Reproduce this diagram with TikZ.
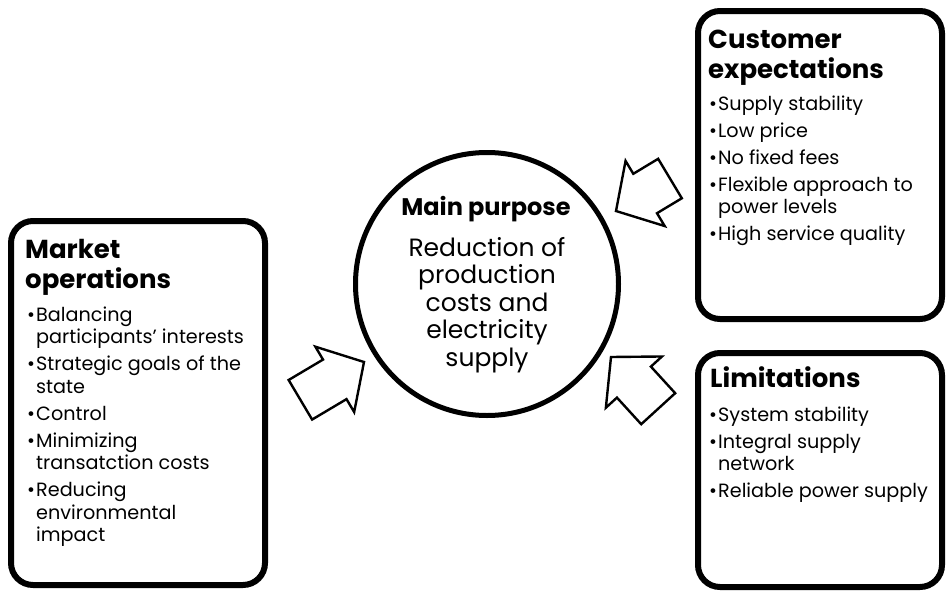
\documentclass[tikz,border=0pt]{standalone}
\usepackage{fontspec}
\setmainfont{Poppins}
% bullet with a fixed-width slot, and the matching indent for wrapped lines
\newcommand\bitem{\makebox[9pt][l]{\textbullet}}
\newcommand\bcont{\hspace*{9pt}}
\newcommand\firstline[1]{\rule{0pt}{#1}}
\begin{document}
\begin{tikzpicture}[x=1pt,y=-1pt,
  panel/.style={draw=black, line width=6pt, rounded corners=22pt, inner sep=0pt, fill=white},
  hub/.style={draw=black, line width=5pt, circle, inner sep=0pt, minimum size=263pt, fill=white},
  heading/.style={inner sep=0pt, align=left, font=\fontsize{26}{30}\selectfont\bfseries},
  items/.style={anchor=north west, inner sep=0pt, align=left, font=\fontsize{19.2}{22.5}\selectfont},
  arrowline/.style={draw=black, line width=2.4pt, line join=miter, fill=white},
  pics/blockarrow/.style={code={%
    \path[arrowline] (0,0) -- (-34,38) -- (-34,23) -- (-#1,23) -- (-#1,-23)
      -- (-34,-23) -- (-34,-38) -- cycle;}}
]
\useasboundingbox (0,0) rectangle (946,592);

% panels and central circle
\node[panel, minimum width=254pt, minimum height=364pt] (market) at (138,403) {};
\node[panel, minimum width=244pt, minimum height=308pt] (customer) at (820,165) {};
\node[panel, minimum width=244pt, minimum height=234pt] (limits) at (820,470) {};
\node[hub] (purpose) at (487,284) {};

% centre text
\node[anchor=base, inner sep=0pt, font=\fontsize{24}{27}\selectfont\bfseries] (purposetitle) at (486,215) {Main purpose};
\node[anchor=north, inner sep=0pt, align=center, font=\fontsize{25}{27.5}\selectfont] (purposetext) at (487,234)
  {\firstline{22pt}Reduction of\\production\\costs and\\electricity\\supply};

% market operations
\node[heading, anchor=north west] (markettitle) at (25,233) {\firstline{25pt}Market\\operations};
\node[items] (marketitems) at (27,303) {\firstline{18pt}\bitem Balancing\\
  \bcont participants' interests\\[4.5pt]
  \bitem Strategic goals of the\\
  \bcont state\\[4.5pt]
  \bitem Control\\[4.5pt]
  \bitem Minimizing\\
  \bcont transatction costs\\[4.5pt]
  \bitem Reducing\\
  \bcont environmental\\
  \bcont impact};

% customer expectations
\node[heading, anchor=north west] (customertitle) at (708,23) {\firstline{25pt}Customer\\expectations};
\node[items] (customeritems) at (709,92) {\firstline{18pt}\bitem Supply stability\\[4.5pt]
  \bitem Low price\\[4.5pt]
  \bitem No fixed fees\\[4.5pt]
  \bitem Flexible approach to\\
  \bcont power levels\\[4.5pt]
  \bitem High service quality};

% limitations
\node[heading, anchor=base west] (limitstitle) at (710,387) {Limitations};
\node[items] (limitsitems) at (709,403) {\firstline{18pt}\bitem System stability\\[4.5pt]
  \bitem Integral supply\\
  \bcont network\\[4.5pt]
  \bitem Reliable power supply};

% block arrows pointing at the circle
\pic[rotate=30.7] at (364,362) {blockarrow=74};
\pic[rotate=211] at (616,211) {blockarrow=63};
\pic[rotate=132.4] at (611,357) {blockarrow=70};
\end{tikzpicture}
\end{document}
